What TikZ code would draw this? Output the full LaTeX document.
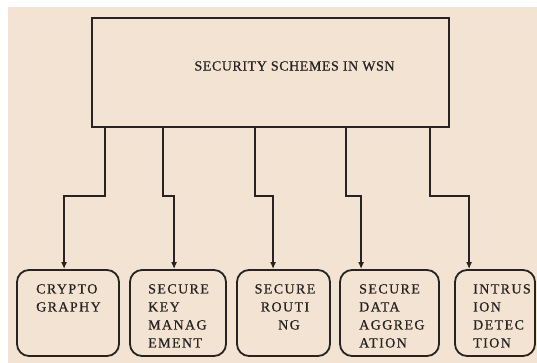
\documentclass[tikz,border=0pt]{standalone}
\usepackage{fontspec}
\setmainfont{Liberation Serif}
\usetikzlibrary{arrows.meta}
\definecolor{paper}{RGB}{242,227,210}
\definecolor{ink}{RGB}{40,35,33}
\tikzset{
  box/.style={draw=ink, line width=1.8pt, inner sep=0pt},
  leaf/.style={box, rounded corners=12pt},
  lbl/.style={inner sep=0pt, anchor=north west, align=left, text=ink,
    font=\fontsize{14}{18}\selectfont\addfontfeature{LetterSpace=10,FakeBold=0.6}},
  arr/.style={draw=ink, line width=2pt, -{Latex[length=7pt,width=6pt]}}
}
\begin{document}
\begin{tikzpicture}[x=1pt,y=-1pt]
\useasboundingbox (0,0) rectangle (537,363);
\fill[paper] (8,7) rectangle (537,363);
% top box
\node[box, minimum width=357pt, minimum height=109pt] (top) at (270.5,72.5) {};
\node[inner sep=0pt, text=ink, font=\fontsize{14}{16}\selectfont\addfontfeature{LetterSpace=4,FakeBold=0.6}] (title) at (294.5,66) {SECURITY SCHEMES IN WSN};
% leaf boxes
\node[leaf, minimum width=102pt, minimum height=86pt] (b1) at (68,313) {};
\node[leaf, minimum width=96pt, minimum height=86pt] (b2) at (178,313) {};
\node[leaf, minimum width=93pt, minimum height=86pt] (b3) at (283.5,313) {};
\node[leaf, minimum width=99pt, minimum height=86pt] (b4) at (389.5,313) {};
\node[leaf, minimum width=80pt, minimum height=86pt] (b5) at (495,313) {};
% leaf texts
\node[lbl] (t1) at (36,284) {CRYPTO\\GRAPHY};
\node[lbl] (t2) at (148,284) {SECURE\\KEY\\MANAG\\EMENT};
\node[lbl, anchor=north, align=center] (t3) at (285,284) {SECURE\\ROUTI\\\hspace*{8pt}NG};
\node[lbl] (t4) at (359,284) {SECURE\\DATA\\AGGREG\\ATION};
\node[lbl] (t5) at (473,284) {INTRUS\\ION\\DETEC\\TION};
% connectors
\draw[arr] ([xshift=14pt]top.south west) -- ++(0,68) -| ([xshift=48pt]b1.north west);
\draw[arr] ([xshift=72pt]top.south west) -- ++(0,68) -| ([xshift=45pt]b2.north west);
\draw[arr] ([xshift=164pt]top.south west) -- ++(0,68) -| ([xshift=37pt]b3.north west);
\draw[arr] ([xshift=255pt]top.south west) -- ++(0,68) -| ([xshift=22pt]b4.north west);
\draw[arr] ([xshift=339pt]top.south west) -- ++(0,68) -| ([xshift=15pt]b5.north west);
\end{tikzpicture}
\end{document}
